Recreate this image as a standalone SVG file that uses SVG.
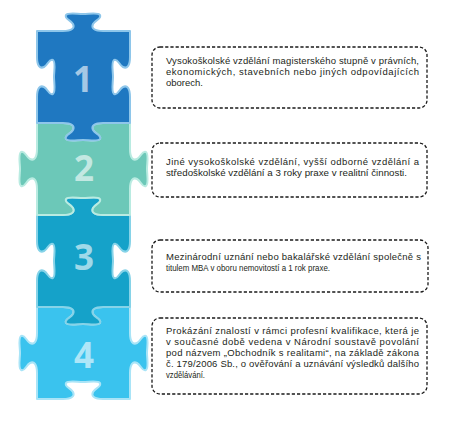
<svg xmlns="http://www.w3.org/2000/svg" width="460" height="426" viewBox="0 0 460 426">
<defs>
<style>
.p{stroke-width:2;stroke-linejoin:round}
.num{font-family:"Open Sans","DejaVu Sans",sans-serif;font-weight:700;font-size:35px;fill:#ffffff;fill-opacity:0.6;text-anchor:middle}
.box{fill:#ffffff;stroke:#1a1a1a;stroke-width:1.3;stroke-dasharray:3.2 2;}
.t{font-family:"Liberation Sans",Arial,sans-serif;font-size:9.5px;fill:#231f20}
</style>
<path id="pA" d="M36 31 L62 31 C71 31 74 28 72 24 C70 20 63 19 65 15 C67 12 76 14 82 14 C88 14 97 12 99 15 C101 19 94 20 92 24 C90 28 93 31 102 31 L129 31 L129 57 C129 66 126 69 122 67 C118 65 117 58 113 60 C110 62 112 71 112 77 C112 83 110 92 113 94 C117 96 118 89 122 87 C126 85 129 88 129 97 L129 123 L102 123 C93 123 90 126 92 130 C94 134 101 135 99 139 C97 142 88 140 82 140 C76 140 67 142 65 139 C63 135 70 134 72 130 C74 126 71 123 62 123 L36 123 L36 97 C36 88 39 85 43 87 C47 89 48 96 52 94 C55 92 53 83 53 77 C53 71 55 62 52 60 C48 58 47 65 43 67 C39 69 36 66 36 57 Z"/>
<path id="pB" d="M36 123 L62 123 C71 123 74 126 72 130 C70 134 63 135 65 139 C67 142 76 140 82 140 C88 140 97 142 99 139 C101 135 94 134 92 130 C90 126 93 123 102 123 L129 123 L129 149 C129 158 132 161 136 159 C140 157 141 150 145 152 C148 154 146 163 146 169 C146 175 148 184 145 186 C141 188 140 181 136 179 C132 177 129 180 129 189 L129 215 L102 215 C93 215 90 212 92 208 C94 204 101 203 99 199 C97 196 88 198 82 198 C76 198 67 196 65 199 C63 203 70 204 72 208 C74 212 71 215 62 215 L36 215 L36 189 C36 180 33 177 29 179 C25 181 24 188 20 186 C17 184 19 175 19 169 C19 163 17 154 20 152 C24 150 25 157 29 159 C33 161 36 158 36 149 Z"/>
</defs>
<rect width="460" height="426" fill="#ffffff"/>
<g transform="translate(1,0)">
<g id="piece4"><use href="#pB" class="p" transform="translate(0,184)" fill="#3ac3ee" stroke="#a9e4f7"/><text class="num" x="83" y="368">4</text></g>
<g id="piece3"><use href="#pA" class="p" transform="translate(0,184)" fill="#15a2c9" stroke="#86d3e8"/><text class="num" x="83" y="270">3</text></g>
<g id="piece2"><use href="#pB" class="p" fill="#6cc8b8" stroke="#b9ebe1"/><text class="num" x="83" y="181">2</text></g>
<g id="piece1"><use href="#pA" class="p" fill="#1f78c1" stroke="#8ec6ea"/><text class="num" x="82" y="92">1</text></g>
</g>
<g id="connectors"></g>
<g id="box1">
<rect class="box" x="152" y="47" width="275" height="61" rx="8"/>
<text class="t" x="166" y="64" textLength="253" lengthAdjust="spacing">Vysokoškolské vzdělání magisterského stupně v právních,</text>
<text class="t" x="166" y="75" textLength="253" lengthAdjust="spacing">ekonomických, stavebních nebo jiných odpovídajících</text>
<text class="t" x="166" y="86" textLength="37" lengthAdjust="spacingAndGlyphs">oborech.</text>
</g>
<g id="box2">
<rect class="box" x="152" y="143" width="275" height="54" rx="8"/>
<text class="t" x="166" y="165" textLength="253" lengthAdjust="spacing">Jiné vysokoškolské vzdělání, vyšší odborné vzdělání a</text>
<text class="t" x="166" y="176" textLength="241" lengthAdjust="spacingAndGlyphs">středoškolské vzdělání a 3 roky praxe v realitní činnosti.</text>
</g>
<g id="box3">
<rect class="box" x="152" y="240" width="276" height="52" rx="8"/>
<text class="t" x="166" y="260" textLength="255" lengthAdjust="spacing">Mezinárodní uznání nebo bakalářské vzdělání společně s</text>
<text class="t" x="166" y="271" textLength="164" lengthAdjust="spacingAndGlyphs">titulem MBA v oboru nemovitostí a 1 rok praxe.</text>
</g>
<g id="box4">
<rect class="box" x="152" y="318" width="275" height="76" rx="8"/>
<text class="t" x="166" y="334" textLength="253" lengthAdjust="spacing">Prokázání znalostí v rámci profesní kvalifikace, která je</text>
<text class="t" x="166" y="345" textLength="253" lengthAdjust="spacing">v současné době vedena v Národní soustavě povolání</text>
<text class="t" x="166" y="356" textLength="253" lengthAdjust="spacing">pod názvem „Obchodník s realitami“, na základě zákona</text>
<text class="t" x="166" y="367" textLength="253" lengthAdjust="spacing">č. 179/2006 Sb., o ověřování a uznávání výsledků dalšího</text>
<text class="t" x="166" y="378" textLength="39" lengthAdjust="spacingAndGlyphs">vzdělávání.</text>
</g>
</svg>
